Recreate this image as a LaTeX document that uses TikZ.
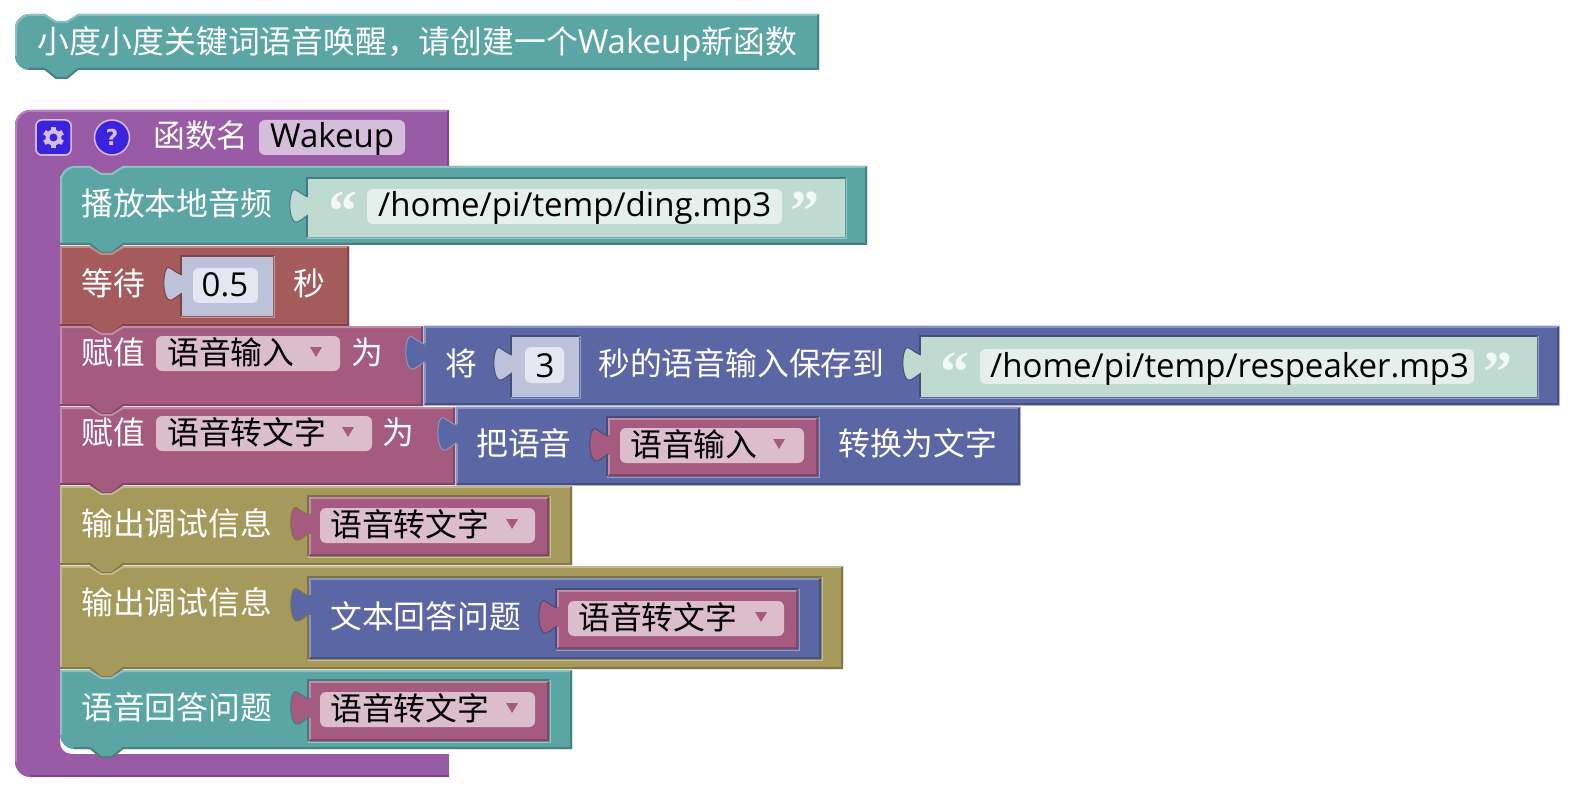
\documentclass[tikz,border=0pt]{standalone}
\usepackage{fontspec}
\usepackage{xcolor}
\usepackage{tikz}
\newfontfamily\cjk{Noto Sans CJK SC}
\newfontfamily\lat{Open Sans}
\newfontfamily\quotefont{Liberation Serif Bold}
\definecolor{teal}{HTML}{5BA5A5}
\definecolor{purple}{HTML}{995BA5}
\definecolor{brick}{HTML}{A55B5B}
\definecolor{rose}{HTML}{A55B80}
\definecolor{indigo}{HTML}{5B67A5}
\definecolor{olive}{HTML}{A5995B}
\definecolor{numshadow}{HTML}{BDC2DB}
\definecolor{strshadow}{HTML}{BFDAD1}
\definecolor{iconblue}{HTML}{3B23DD}
\definecolor{purplefield}{HTML}{D6BDDB}
\definecolor{rosefield}{HTML}{DBBDCC}

\begin{document}
\begin{tikzpicture}[
    x=1pt, y=-1pt,
    stmtshape/.style n args={6}{insert path={
        (#1,#2+#5) .. controls (#1,#2+0.45*#5) and (#1+0.45*#5,#2) .. (#1+#5,#2)
        -- (#1+30,#2) -- (#1+41,#2+7) .. controls (#1+44,#2+9) and (#1+49,#2+9) .. (#1+52,#2+7) -- (#1+63,#2)
        -- (#3,#2) -- (#3,#4)
        -- (#1+63,#4) -- (#1+52,#4+7) .. controls (#1+49,#4+9) and (#1+44,#4+9) .. (#1+41,#4+7) -- (#1+30,#4)
        -- (#1+#6,#4) .. controls (#1+0.45*#6,#4) and (#1,#4-0.45*#6) .. (#1,#4-#6) -- cycle}},
    stmtlight/.style n args={4}{insert path={
        (#1+1,#2+#4) -- (#1+1,#2+1+#3) .. controls (#1+1,#2+1+0.45*#3) and (#1+1+0.45*#3,#2+1) .. (#1+1+#3,#2+1)
        -- (#1+30,#2+1) -- (#1+41,#2+8) -- (#1+52,#2+8) -- (#1+63,#2+1) -- (#1+70,#2+1)}},
    valueshape/.style n args={4}{insert path={
        (#1,#2) -- (#3,#2) -- (#3,#4) -- (#1,#4) -- (#1,#2+36)
        .. controls (#1-5,#2+39) and (#1-9,#2+44) .. (#1-13,#2+43)
        .. controls (#1-19,#2+40) and (#1-20,#2+18) .. (#1-15,#2+11)
        .. controls (#1-12,#2+9) and (#1-8,#2+15) .. (#1,#2+18) -- cycle}},
    blocktext/.style={anchor=base west, inner sep=0pt, text=white, font=\cjk\fontsize{31.8}{32}\selectfont},
    fieldtext/.style={blocktext, text=black},
    numtext/.style={anchor=base, inner sep=0pt, text=black, font=\lat\fontsize{33}{33}\selectfont},
    quotemark/.style={inner sep=0pt, text=strshadow!20!white, font=\quotefont\fontsize{58}{58}\selectfont},
    dropmark/.style={fill=rose},
    pill/.style={rounded corners=6pt},
    iconline/.style={fill=iconblue, draw=purplefield, line width=1.5pt}
]
    \useasboundingbox (0,0) rectangle (1582,794);

    % Function block frame
    \fill[purple] (30,110) -- (449,110) -- (449,176) -- (60,176) -- (60,742)
        .. controls (60,749) and (65,754) .. (72,754) -- (449,754) -- (449,777) -- (30,777)
        .. controls (22,777) and (15,770) .. (15,762) -- (15,125) .. controls (15,117) and (22,110) .. (30,110) -- cycle;
    \draw[purple!75!white, line width=2pt] (16,762) -- (16,125) .. controls (16,117) and (22,111) .. (30,111) -- (448,111);
    \draw[purple!80!black, line width=2pt] (448,111) -- (448,166);
    \draw[purple!80!black, line width=2pt] (449,776) -- (30,776);

    % Statement blocks, each one over the tab of the one before
    \foreach \xa/\ya/\xb/\yb/\rt/\rb/\col in {
        15/14/819/70/14/14/teal,
        60/166/867/245/14/0/teal,
        60/246/349/326/0/0/brick,
        60/326/423/406/0/0/rose,
        60/407/455/485/0/0/rose,
        60/486/572/565/0/0/olive,
        60/566/843/669/0/0/olive,
        60/670/572/749/0/14/teal} {
        \fill[fill=\col, stmtshape={\xa}{\ya}{\xb}{\yb}{\rt}{\rb}];
        \draw[draw=\col!70!white, line width=2pt, stmtlight={\xa}{\ya}{\rt}{\yb-\ya-\rb}] -- (\xb-1,\ya+1);
        \draw[draw=\col!78!black, line width=2pt] (\xb-1,\ya+1) -- (\xb-1,\yb-1) -- (\xa+63,\yb-1)
            -- (\xa+52,\yb+8) -- (\xa+41,\yb+8) -- (\xa+30,\yb-1) -- (\xa+\rb,\yb-1);
    }

    % Values joined directly to the right end of a statement
    \foreach \xa/\ya/\xb/\yb in {424/326/1559/405, 456/407/1020/485} {
        \fill[fill=indigo, draw=indigo!70!white, line width=1pt, valueshape={\xa}{\ya}{\xb}{\yb}];
    }

    % Values sitting in an input socket
    \foreach \xa/\ya/\xb/\yb/\col/\host in {
        308/179/845/237/strshadow/teal,
        182/257/273/316/numshadow/brick,
        512/337/579/397/numshadow/indigo,
        921/337/1537/397/strshadow/indigo,
        608/418/818/476/rose/indigo,
        309/497/549/556/rose/olive,
        309/578/821/659/indigo/olive,
        557/590/798/649/rose/indigo,
        309/681/549/741/rose/teal} {
        \draw[draw=\host!75!black, line width=2pt] (\xa-1,\yb) -- (\xa-1,\ya-1) -- (\xb+1,\ya-1);
        \draw[draw=\host!65!white, line width=2pt] (\xb+1,\ya-1) -- (\xb+1,\yb+1) -- (\xa-1,\yb+1);
        \fill[fill=\col, draw=\host!75!black, line width=1pt, valueshape={\xa}{\ya}{\xb}{\yb}];
        \fill[fill=\col] (\xa,\ya) rectangle (\xb,\yb);
    }

    % Bevels of the coloured values
    \foreach \xa/\ya/\xb/\yb/\col in {
        424/326/1559/405/indigo,
        456/407/1020/485/indigo,
        608/418/818/476/rose,
        309/497/549/556/rose,
        309/578/821/659/indigo,
        557/590/798/649/rose,
        309/681/549/741/rose} {
        \draw[draw=\col!70!white, line width=2pt] (\xa+1,\yb-1) -- (\xa+1,\ya+37) (\xa+1,\ya+17) -- (\xa+1,\ya+1) -- (\xb-1,\ya+1);
        \draw[draw=\col!78!black, line width=2pt] (\xb-1,\ya+1) -- (\xb-1,\yb-1) -- (\xa+1,\yb-1);
    }

    % Plain fields
    \fill[purplefield, pill] (259,120) rectangle (405,155);
    \fill[strshadow!40!white, pill] (367,189) rectangle (782,224);
    \fill[strshadow!40!white, pill] (980,349) rectangle (1474,384);
    \fill[numshadow!40!white, pill] (193,268) rectangle (258,303);
    \fill[numshadow!40!white, pill] (525,347) rectangle (564,383);

    % Variable drop-downs
    \foreach \xa/\ya/\xb/\tx/\dx/\name in {
        156/336/340/167/316/语音输入,
        156/416/372/167/348/语音转文字,
        620/428/804/630/779/语音输入,
        320/508/535/330/512/语音转文字,
        568/601/784/578/761/语音转文字,
        320/692/535/330/512/语音转文字} {
        \fill[rosefield, pill] (\xa,\ya) rectangle (\xb,\ya+35);
        \node[fieldtext] (var-\xa-\ya) at (\tx,\ya+28) {\name};
        \fill[dropmark] (\dx-6,\ya+11) -- (\dx+6,\ya+11) -- (\dx,\ya+21) -- cycle;
    }

    % Icons of the function block
    \fill[iconline, rounded corners=6pt] (36,120) rectangle (71,155);
    \draw[iconline] (36,120) [rounded corners=6pt] rectangle (71,155);
    \fill[fill=purplefield] (53.5,137.5) circle (8);
    \foreach \a in {0,60,...,300} {
        \fill[fill=purplefield, rotate around={\a:(53.5,137.5)}] (51,127) rectangle (56,132);
    }
    \fill[iconblue] (53.5,137.5) circle (4);
    \draw[iconline] (112,137.5) circle (17.5);
    \node[inner sep=0pt, text=purplefield, font=\fontspec{DejaVu Sans Bold}\fontsize{22}{22}\selectfont] (help) at (112,137.5) {?};

    % Texts
    \node[blocktext] (title) at (37,54) {小度小度关键词语音唤醒，请创建一个{\lat\fontsize{33}{33}\selectfont Wakeup}新函数};
    \node[blocktext] (fname) at (153,148) {函数名};
    \node[numtext, anchor=base west] (wakeup) at (270,148) {Wakeup};
    \node[blocktext] (play) at (81,216) {播放本地音频};
    \node[quotemark] (qa) at (343,211) {“};
    \node[numtext, anchor=base west] (dingpath) at (378,217) {/home/pi/temp/ding.mp3};
    \node[quotemark] (qb) at (805,211) {”};
    \node[blocktext] (waitfor) at (81,295) {等待};
    \node[numtext] (waitnum) at (225,297) {0.5};
    \node[blocktext] (secs) at (293,295) {秒};
    \node[blocktext] (seta) at (81,364) {赋值};
    \node[blocktext] (asa) at (351,364) {为};
    \node[blocktext] (jiang) at (445,375) {将};
    \node[numtext] (recnum) at (545,377) {3};
    \node[blocktext] (recsave) at (598,375) {秒的语音输入保存到};
    \node[quotemark] (qc) at (955,372) {“};
    \node[numtext, anchor=base west] (recpath) at (990,377) {/home/pi/temp/respeaker.mp3};
    \node[quotemark] (qd) at (1498,372) {”};
    \node[blocktext] (setb) at (81,444) {赋值};
    \node[blocktext] (asb) at (382,444) {为};
    \node[blocktext] (convert) at (476,455) {把语音};
    \node[blocktext] (converted) at (838,455) {转换为文字};
    \node[blocktext] (printa) at (81,535) {输出调试信息};
    \node[blocktext] (printb) at (81,614) {输出调试信息};
    \node[blocktext] (answer) at (330,628) {文本回答问题};
    \node[blocktext] (voice) at (81,719) {语音回答问题};

\end{tikzpicture}
\end{document}
